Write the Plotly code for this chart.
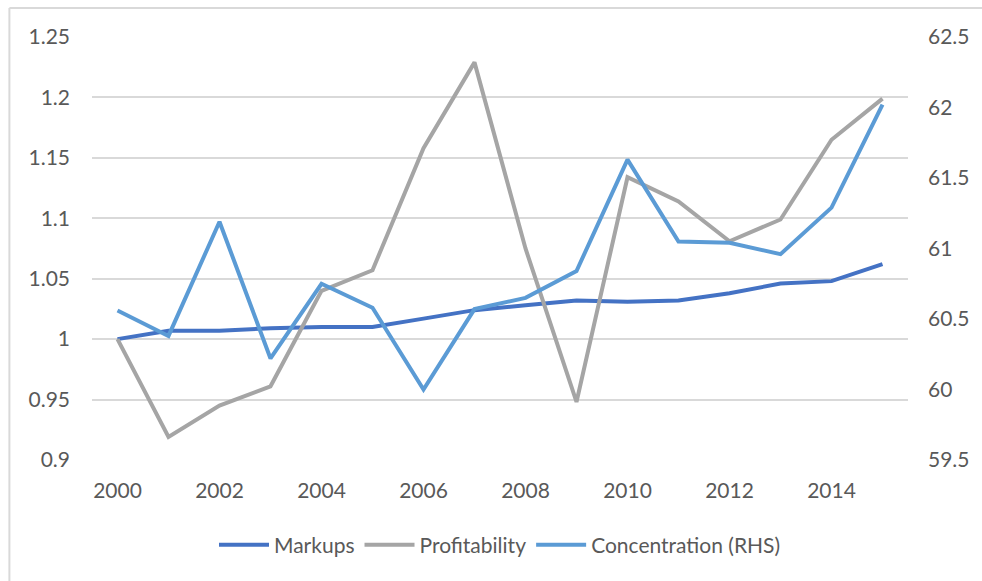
import plotly.graph_objects as go

years = list(range(2000, 2016))
markups = [1.000, 1.007, 1.007, 1.009, 1.010, 1.010, 1.017, 1.024, 1.028, 1.032,
           1.031, 1.032, 1.038, 1.046, 1.048, 1.062]
profitability = [1.000, 0.919, 0.945, 0.961, 1.040, 1.057, 1.158, 1.229, 1.075, 0.948,
                 1.134, 1.114, 1.081, 1.099, 1.165, 1.199]
concentration = [60.56, 60.38, 61.19, 60.22, 60.75, 60.58, 60.00, 60.57, 60.65, 60.84,
                 61.63, 61.05, 61.04, 60.96, 61.29, 62.02]
x_ticks = [2000, 2002, 2004, 2006, 2008, 2010, 2012, 2014]

FONT = "Lato"
TXT = "#595959"
GRID = "#D9D9D9"

fig = go.Figure()
fig.add_trace(go.Scatter(x=years, y=markups, name="Markups", mode="lines",
                         line=dict(color="#4472C4", width=4)))
fig.add_trace(go.Scatter(x=years, y=profitability, name="Profitability", mode="lines",
                         line=dict(color="#A5A5A5", width=4)))
fig.add_trace(go.Scatter(x=years, y=concentration, name="Concentration (RHS)", mode="lines",
                         line=dict(color="#5B9BD5", width=4), yaxis="y2"))

L, R, T, B = 92, 70, 37, 121
W, H = 982, 581
pw, ph = W - L - R, H - T - B

fig.update_layout(
    width=W, height=H,
    margin=dict(l=L, r=R, t=T, b=B),
    paper_bgcolor="white", plot_bgcolor="white",
    font=dict(family=FONT, size=21, color=TXT),
    xaxis=dict(range=[1999.5, 2015.5], tickvals=x_ticks, showgrid=False,
               zeroline=False, showline=False, ticks="", ticklabelstandoff=16),
    yaxis=dict(range=[0.9, 1.25], dtick=0.05, showgrid=True, gridcolor=GRID,
               gridwidth=1.5, zeroline=False, showline=False, ticks="",
               ticklabelstandoff=21),
    yaxis2=dict(range=[59.5, 62.5], dtick=0.5, overlaying="y", side="right",
                showgrid=False, zeroline=False, showline=False, ticks="",
                ticklabelstandoff=19),
    legend=dict(orientation="h", x=0.5, xanchor="center", y=-(545 - 460) / ph,
                yanchor="middle", itemwidth=50, font=dict(size=21, color=TXT)),
    showlegend=True,
)

x_left = (9 - L) / pw
y_top = 1 + (T - 8) / ph
fig.add_shape(type="line", xref="paper", yref="paper", x0=x_left, x1=x_left,
              y0=y_top, y1=-0.5, line=dict(color=GRID, width=2))
fig.add_shape(type="line", xref="paper", yref="paper", x0=x_left, x1=1.2,
              y0=y_top, y1=y_top, line=dict(color=GRID, width=2))

fig.write_html("out.html")
